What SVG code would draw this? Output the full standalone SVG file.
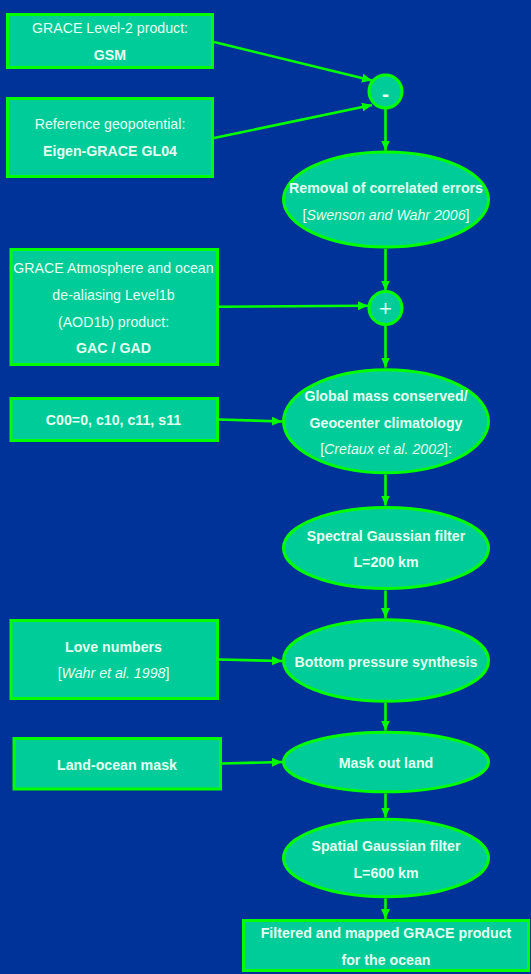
<svg xmlns="http://www.w3.org/2000/svg" width="531" height="974" viewBox="0 0 531 974">
<style>
.bg{fill:#003399}
.n{fill:#00CC99;stroke:#00FF00;stroke-width:3}
.t{font-family:"Liberation Sans",Arial,sans-serif;font-size:14.2px;fill:#E4FFF2;text-anchor:middle}
.b{font-weight:bold}
.i{font-style:italic}
.c{stroke:#00FF00;stroke-width:2.6;fill:none;marker-end:url(#ah)}
</style>
<defs>
<marker id="ah" markerUnits="userSpaceOnUse" markerWidth="10" markerHeight="9" refX="10" refY="4.5" orient="auto">
<path d="M0,0 L10,4.5 L0,9 z" fill="#00FF00"/>
</marker>
</defs>
<rect class="bg" x="0" y="0" width="531" height="974"/>
<g id="connectors">
<line class="c" x1="214" y1="42" x2="372" y2="80.5"/>
<line class="c" x1="214" y1="138" x2="372" y2="105"/>
<line class="c" x1="385.5" y1="108.5" x2="385.5" y2="150.5"/>
<line class="c" x1="385.5" y1="249" x2="385.5" y2="290.5"/>
<line class="c" x1="219" y1="306.7" x2="368" y2="305.7"/>
<line class="c" x1="385.5" y1="325.5" x2="385.5" y2="367.5"/>
<line class="c" x1="219" y1="419.5" x2="282" y2="421.5"/>
<line class="c" x1="385.5" y1="474.5" x2="385.5" y2="505.5"/>
<line class="c" x1="385.5" y1="590.5" x2="385.5" y2="618"/>
<line class="c" x1="219" y1="659.5" x2="282" y2="661"/>
<line class="c" x1="385.5" y1="703" x2="385.5" y2="730.5"/>
<line class="c" x1="222" y1="763.5" x2="282" y2="762"/>
<line class="c" x1="385.5" y1="793.5" x2="385.5" y2="817.5"/>
<line class="c" x1="385.5" y1="898.5" x2="385.5" y2="919"/>
</g>
<g id="gsm">
<rect class="n" x="7.5" y="14.5" width="205" height="53"/>
<text class="t" x="110" y="33">GRACE Level-2 product:</text>
<text class="t b" x="110" y="60">GSM</text>
</g>
<g id="ref">
<rect class="n" x="7.5" y="98.5" width="205" height="78"/>
<text class="t" x="110" y="129">Reference geopotential:</text>
<text class="t b" x="110" y="156">Eigen-GRACE GL04</text>
</g>
<g id="minus">
<circle class="n" cx="385.5" cy="91.5" r="16.5"/>
<text class="t b" x="385.5" y="101" style="font-size:21px">-</text>
</g>
<g id="removal">
<ellipse class="n" cx="386" cy="199.5" rx="102.5" ry="47.5"/>
<text class="t b" x="386" y="193">Removal of correlated errors</text>
<text class="t" x="386" y="220">[<tspan class="i">Swenson and Wahr 2006</tspan>]</text>
</g>
<g id="aod">
<rect class="n" x="11" y="249.5" width="206.5" height="115"/>
<text class="t" x="113.5" y="273">GRACE Atmosphere and ocean</text>
<text class="t" x="113.5" y="300">de-aliasing Level1b</text>
<text class="t" x="113.5" y="326.5">(AOD1b) product:</text>
<text class="t b" x="113.5" y="353">GAC / GAD</text>
</g>
<g id="plus">
<circle class="n" cx="385.5" cy="308" r="16.5"/>
<text class="t" x="385.5" y="315.5" style="font-size:22px">+</text>
</g>
<g id="c00">
<rect class="n" x="11" y="398.5" width="206.5" height="42"/>
<text class="t b" x="113.5" y="425">C00=0, c10, c11, s11</text>
</g>
<g id="global">
<ellipse class="n" cx="386" cy="421.3" rx="102.5" ry="51.5"/>
<text class="t b" x="386" y="401">Global mass conserved/</text>
<text class="t b" x="386" y="427.5">Geocenter climatology</text>
<text class="t" x="386" y="454">[<tspan class="i">Cretaux et al. 2002</tspan>]:</text>
</g>
<g id="spectral">
<ellipse class="n" cx="386" cy="548" rx="102.5" ry="40.5"/>
<text class="t b" x="386" y="541">Spectral Gaussian filter</text>
<text class="t b" x="386" y="567">L=200 km</text>
</g>
<g id="love">
<rect class="n" x="11" y="620.5" width="206.5" height="78"/>
<text class="t b" x="113.5" y="651.5">Love numbers</text>
<text class="t" x="113.5" y="678">[<tspan class="i">Wahr et al. 1998</tspan>]</text>
</g>
<g id="bottom">
<ellipse class="n" cx="386" cy="660.5" rx="102.5" ry="40.7"/>
<text class="t b" x="386" y="666.5">Bottom pressure synthesis</text>
</g>
<g id="landocean">
<rect class="n" x="14" y="738.5" width="206.5" height="50.5"/>
<text class="t b" x="117" y="770">Land-ocean mask</text>
</g>
<g id="mask">
<ellipse class="n" cx="386" cy="762" rx="102.5" ry="29.8"/>
<text class="t b" x="386" y="767.5">Mask out land</text>
</g>
<g id="spatial">
<ellipse class="n" cx="386" cy="858" rx="102.5" ry="38.8"/>
<text class="t b" x="386" y="851">Spatial Gaussian filter</text>
<text class="t b" x="386" y="878">L=600 km</text>
</g>
<g id="final">
<rect class="n" x="243.5" y="920.5" width="285" height="50"/>
<text class="t b" x="386" y="938">Filtered and mapped GRACE product</text>
<text class="t b" x="386" y="965">for the ocean</text>
</g>
</svg>
